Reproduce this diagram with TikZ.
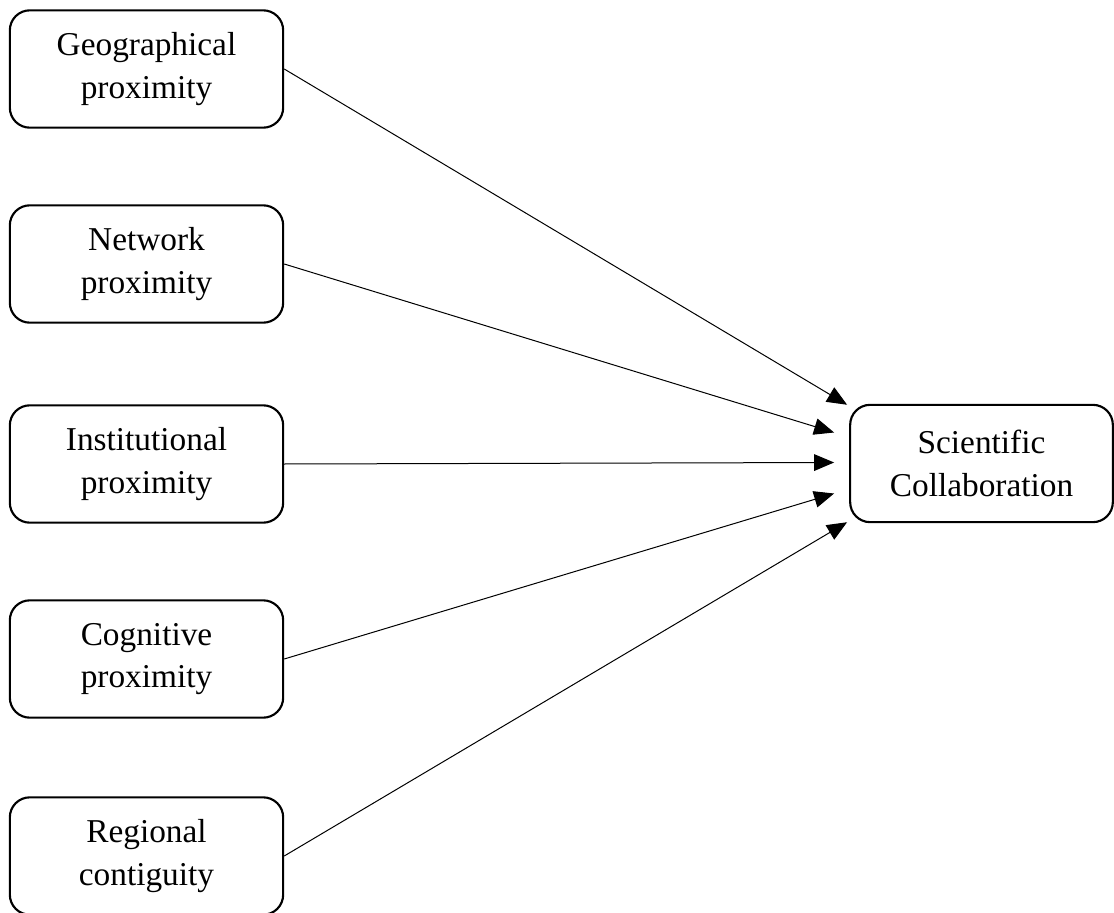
\documentclass[tikz,border=0pt]{standalone}
\usepackage{fontspec}
\setmainfont{Liberation Serif}
\usepackage{tikz}
\usetikzlibrary{calc,arrows.meta}

\tikzset{
  factor/.style={draw, line width=1.6pt, rounded corners=15pt, minimum width=205pt, minimum height=88pt,
    align=center, inner sep=0pt, font=\fontsize{25}{32}\selectfont},
  link/.style={line width=0.75pt, -{Triangle[length=15pt, width=12.5pt]}}
}

\begin{document}
\begin{tikzpicture}[x=0.75pt,y=0.75pt,yscale=-1,xscale=1]
                  %set diagram to the size of the reference
                  \useasboundingbox (0,0) rectangle (1114,913);

                  % Left boxes
                  \node [factor] (geo) at (146.5,69) {Geographical\\proximity};
                  \node [factor] (net) at (146.5,264) {Network\\proximity};
                  \node [factor] (inst) at (146.5,464) {Institutional\\proximity};
                  \node [factor] (cog) at (146.5,659) {Cognitive\\proximity};
                  \node [factor] (reg) at (146.5,856) {Regional\\contiguity};

                  % Right box
                  \node [factor, minimum width=197pt] (collab) at (981.5,463.5) {Scientific\\Collaboration};

                  % Arrow ends
                  \coordinate (e2) at ($(collab.west)+(-15,-31)$);
                  \coordinate (e3) at ($(collab.west)+(-15,-1)$);
                  \coordinate (e4) at ($(collab.west)+(-15,30)$);

                  % Arrows
                  \draw [link] (geo.east) -- ($(collab.north west)+(-2,1)$);
                  \draw [link] (net.east) -- (e2);
                  \draw [link] (inst.east) -- (e3);
                  \draw [link] (cog.east) -- (e4);
                  \draw [link] (reg.east) -- ($(collab.south west)+(-2,-1)$);

              \end{tikzpicture}
\end{document}
